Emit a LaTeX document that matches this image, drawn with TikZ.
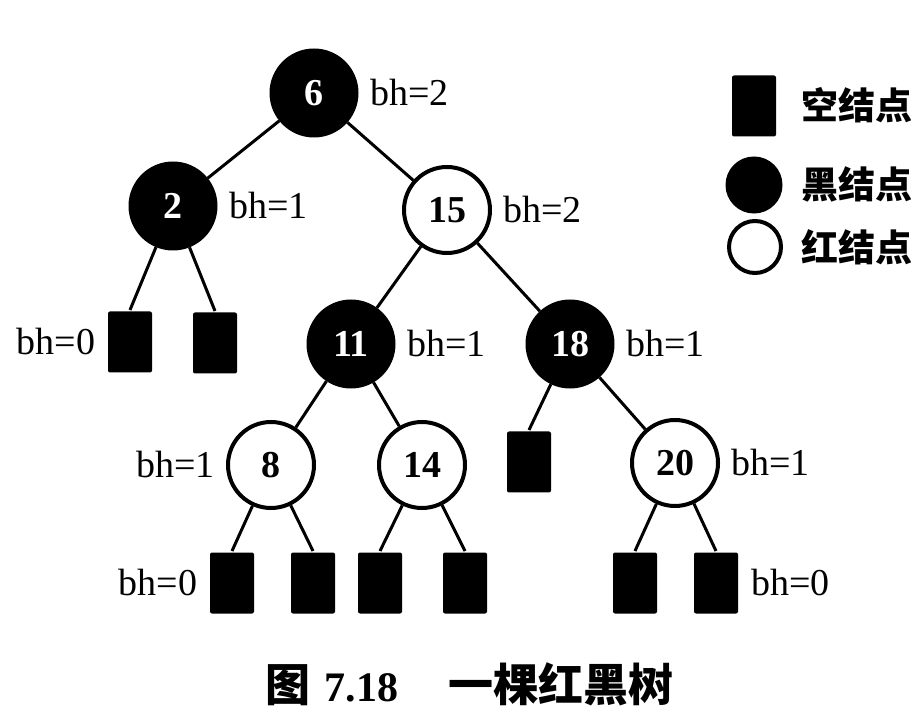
\documentclass[tikz,border=0pt]{standalone}
\usepackage{fontspec}
\setmainfont{Liberation Serif}
\newfontfamily\cjk{Noto Sans CJK SC}
\usetikzlibrary{positioning}

\begin{document}
\begin{tikzpicture}
        [x=0.5pt,y=-0.5pt,line width=1.5pt,node distance=4pt,
         blacknode/.style={circle,fill=black,draw=black,minimum size=43pt,inner sep=0pt,
           text=white,font=\bfseries\fontsize{19}{19}\selectfont},
         rednode/.style={circle,fill=white,draw=black,line width=2pt,minimum size=43pt,inner sep=0pt,
           font=\bfseries\fontsize{19}{19}\selectfont},
         nilnode/.style={rectangle,fill=black,rounded corners=1pt,minimum width=22pt,
           minimum height=30.5pt,inner sep=0pt},
         bhlabel/.style={inner sep=1pt,font=\fontsize{19}{19}\selectfont},
         keylabel/.style={anchor=west,inner sep=0pt,font=\cjk\bfseries\fontsize{18.5}{18.5}\selectfont}]
      \useasboundingbox (0,0) rectangle (920,710);
      % tree
      \node[blacknode] (n6)  at (314,93)  {6};
      \node[blacknode] (n2)  at (173,206) {2};
      \node[rednode]   (n15) at (447,210) {15};
      \node[blacknode] (n11) at (351,344) {11};
      \node[blacknode] (n18) at (570,344) {18};
      \node[rednode]   (n8)  at (271,465) {8};
      \node[rednode]   (n14) at (422,465) {14};
      \node[rednode]   (n20) at (675,463) {20};
      % empty nodes
      \node[nilnode] (e1) at (130,342) {};
      \node[nilnode] (e2) at (215,343) {};
      \node[nilnode] (e3) at (529,462) {};
      \node[nilnode] (e4) at (232,583) {};
      \node[nilnode] (e5) at (313,583) {};
      \node[nilnode] (e6) at (380,583) {};
      \node[nilnode] (e7) at (465,583) {};
      \node[nilnode] (e8) at (635,583) {};
      \node[nilnode] (e9) at (716,583) {};
      \path (n6) edge (n2) edge (n15);
      \path (n2) edge (e1.north) edge (e2.north);
      \path (n15) edge (n11) edge (n18);
      \path (n11) edge (n8) edge (n14);
      \path (n18) edge (e3.north) edge (n20);
      \path (n8) edge (e4.north) edge (e5.north);
      \path (n14) edge (e6.north) edge (e7.north);
      \path (n20) edge (e8.north) edge (e9.north);
      % black heights
      \node[bhlabel] (b6)  [right=of n6]  {bh=2};
      \node[bhlabel] (b2)  [right=of n2]  {bh=1};
      \node[bhlabel] (b15) [right=of n15] {bh=2};
      \node[bhlabel] (b11) [right=of n11] {bh=1};
      \node[bhlabel] (b18) [right=of n18] {bh=1};
      \node[bhlabel] (b8)  [left=of n8]   {bh=1};
      \node[bhlabel] (b20) [right=of n20] {bh=1};
      \node[bhlabel] (be1) [left=of e1]   {bh=0};
      \node[bhlabel] (be4) [left=of e4]   {bh=0};
      \node[bhlabel] (be9) [right=of e9]  {bh=0};
      % legend
      \node[nilnode] (k1) at (754,106) {};
      \node[blacknode,minimum size=27pt] (k2) at (754,185) {};
      \node[rednode,minimum size=26pt]   (k3) at (755,247) {};
      \node[keylabel] (t1) at (800,105) {空结点};
      \node[keylabel] (t2) at (800,184) {黑结点};
      \node[keylabel] (t3) at (800,247) {红结点};
      % caption
      \node[anchor=west,inner sep=0pt,font=\bfseries\fontsize{21}{21}\selectfont] (cap) at (264,684)
        {{\cjk\fontsize{22.5}{22.5}\selectfont 图}\hspace{7pt}7.18\hspace{25pt}{\cjk\fontsize{22.5}{22.5}\selectfont 一棵红黑树}};
\end{tikzpicture}
\end{document}
